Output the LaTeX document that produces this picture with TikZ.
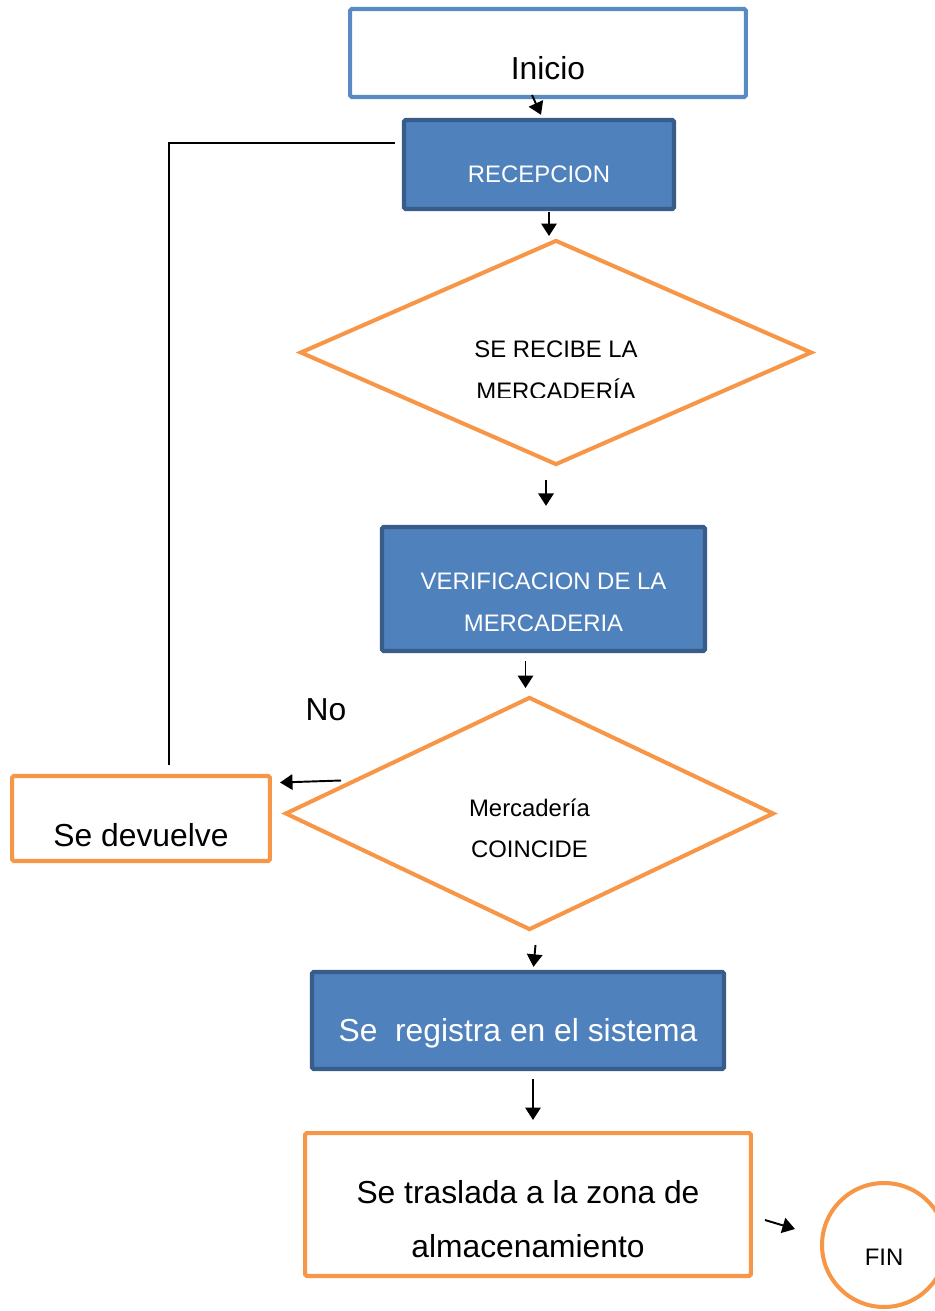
\documentclass[tikz,border=0pt]{standalone}
\usepackage{fontspec}
\setmainfont{Liberation Sans}
\usetikzlibrary{shapes.geometric,arrows.meta,calc}
\definecolor{procblue}{HTML}{4F81BD}
\definecolor{procedge}{HTML}{385D8A}
\definecolor{startedge}{HTML}{5A8AC6}
\definecolor{decorange}{HTML}{F79646}

\begin{document}
\begin{tikzpicture}[x=0.02cm,y=-0.02cm]
  \tikzstyle{bigtext}=[font=\fontsize{18.1}{30.6}\selectfont]
  \tikzstyle{smalltext}=[font=\fontsize{13.6}{23.8}\selectfont]
  \tikzstyle{startbox}=[rectangle,draw=startedge,line width=2.3pt,fill=white,inner sep=0pt,rounded corners=1pt,bigtext]
  \tikzstyle{process}=[rectangle,draw=procedge,line width=2.5pt,fill=procblue,text=white,inner sep=0pt,rounded corners=1pt]
  \tikzstyle{decision}=[diamond,draw=decorange,line width=2.3pt,inner sep=0pt,smalltext,align=center]
  \tikzstyle{outbox}=[rectangle,draw=decorange,line width=2.3pt,inner sep=0pt,rounded corners=1pt,bigtext]
  \tikzstyle{endcircle}=[circle,draw=decorange,line width=2.3pt,inner sep=0pt,smalltext]
  \tikzstyle{arrowline}=[draw,line width=1.1pt,-{Triangle[length=0.25cm,width=0.31cm]}]
  \tikzstyle{backline}=[draw,line width=1.1pt]

  \useasboundingbox (0,0) rectangle (934,1311);

  % main column
  \node [startbox,minimum width=7.92cm,minimum height=1.76cm,text height=1.06cm,text depth=0pt] (inicio) at (548,53) {Inicio};
  \node [process,smalltext,minimum width=5.4cm,minimum height=1.78cm,text height=0.72cm,text depth=0pt] (recep) at (539,164.5) {RECEPCION};
  \node [decision,minimum width=10.24cm,minimum height=4.5cm] (dec1) at (556,352.5) {};
  \begin{scope}
    \clip (400,300) rectangle (712,397);
    \node [smalltext,align=center] (dec1text) at (556,370.5) {SE RECIBE LA\\MERCADERÍA};
  \end{scope}
  \node [process,smalltext,align=center,minimum width=6.46cm,minimum height=2.48cm] (verif) at (543.5,589) {\rule{0pt}{0.864cm}VERIFICACION DE LA\\MERCADERIA};
  \node [decision,minimum width=9.78cm,minimum height=4.66cm] (dec2) at (529.5,813.5) {\rule{0pt}{0.944cm}Mercadería\\COINCIDE};
  \node [bigtext] (nolabel) at (326,710) {No};
  \node [outbox,minimum width=5.16cm,minimum height=1.7cm,text height=1.118cm,text depth=0pt] (devuelve) at (141,818.5) {Se devuelve};
  \node [process,bigtext,minimum width=8.24cm,minimum height=1.94cm,text height=0.84cm,text depth=0pt] (registro) at (518,1020.5) {Se\ \ registra en el sistema};
  \node [outbox,align=center,minimum width=8.92cm,minimum height=2.86cm] (tras) at (528,1204.5) {\rule{0pt}{1.04cm}Se traslada a la zona de\\almacenamiento};
  \node [endcircle,minimum size=2.48cm,text height=0.824cm,text depth=0pt] (fin) at (884,1245) {FIN\hspace{0.16cm}};

  % connectors
  \draw[arrowline] ($(inicio.south)+(-16,-4)$) -- ($(recep.north)+(2,-3)$);
  \draw[arrowline] ($(recep.south)+(10,1)$) -- ($(dec1.north)+(-7,-2)$);
  \draw[arrowline] ($(dec1.south)+(-10,13)$) -- ($(verif.north)+(2.5,-19)$);
  \draw[arrowline] ($(verif.south)+(-18,8)$) -- ($(dec2.north)+(-4,-7)$);
  \draw[arrowline] ($(dec2.west)+(58,-33)$) -- ($(devuelve.east)+(8,-36)$);
  \draw[arrowline] ($(dec2.south)+(6,13)$) -- ($(registro.north)+(15.5,-3)$);
  \draw[arrowline] ($(registro.south)+(15,8)$) -- ($(tras.north)+(5,-11)$);
  \draw[arrowline] ($(tras.east)+(12,15.5)$) -- ($(fin.west)+(-25,-16)$);
  \draw[backline] ($(devuelve.north)+(28,-9)$) |- ($(recep.west)+(-7,-21.5)$);
\end{tikzpicture}
\end{document}
